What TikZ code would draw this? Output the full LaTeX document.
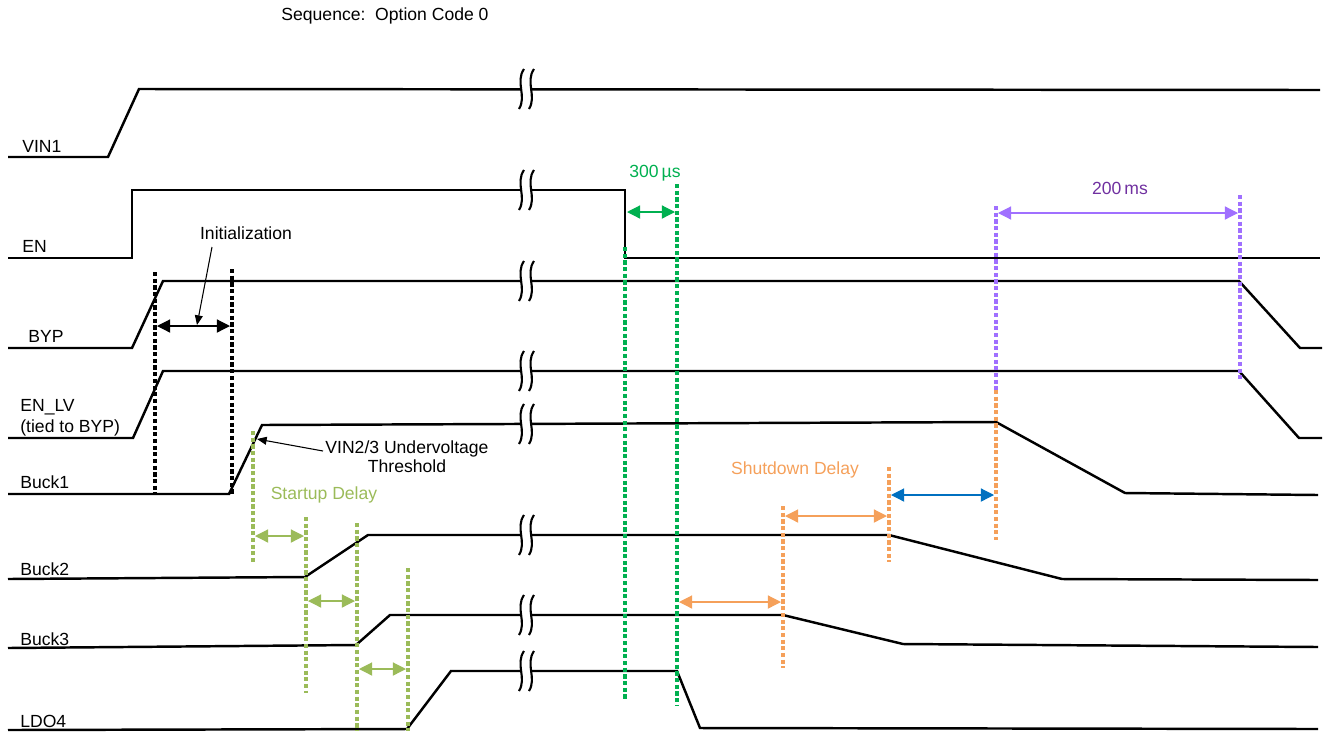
\documentclass[tikz,border=0pt]{standalone}
\usepackage{fontspec}
\setmainfont{Liberation Sans}
\usepackage{tikz}
\usetikzlibrary{arrows.meta}

\definecolor{GreenDark}{HTML}{00B050}
\definecolor{GreenLight}{HTML}{9BBB59}
\definecolor{OrangeDelay}{HTML}{F5A05A}
\definecolor{PurpleLine}{HTML}{A070FF}
\definecolor{PurpleText}{HTML}{7030A0}
\definecolor{BlueDelay}{HTML}{0070C0}

% a broken time axis: gap in the trace plus two wavy strokes
\newcommand{\cutmark}[1]{%
  \fill[white] (521,#1-3) rectangle (531,#1+3);
  \draw[line width=1.2pt] (524,#1-20) .. controls (515,#1-7) and (527,#1+7) .. (519,#1+20);
  \draw[line width=1.2pt] (534,#1-20) .. controls (525,#1-7) and (537,#1+7) .. (529,#1+20);
}

\begin{document}
\begin{tikzpicture}[x=0.02cm, y=-0.02cm, line join=miter,
      every node/.append style={inner sep=0pt, font=\fontsize{10}{12}\selectfont}]
    \tikzstyle{wave} = [line width=1.4pt, color=black]
    \tikzstyle{guide} = [line width=2.2pt, dash pattern=on 2.4pt off 1.4pt]
    \tikzstyle{delay} = [{Triangle[length=7.5pt,width=7.5pt]}-{Triangle[length=7.5pt,width=7.5pt]}, line width=0.7pt]
    \tikzstyle{pointer} = [-{Triangle[length=5.5pt,width=4.5pt]}, line width=0.6pt]
    \useasboundingbox (0,0) rectangle (1325,731);

    \node (title) at (385,16) {Sequence:\ \ Option Code 0};

    % signal names
    \node (vin) [anchor=west] at (22,146) {VIN1};
    \node (en) [anchor=west] at (22,246) {EN};
    \node (byp) [anchor=west] at (28,336) {BYP};
    \node (enlv) [anchor=west] at (20,407) {EN\_LV};
    \node (tied) [anchor=west] at (20,428) {(tied to BYP)};
    \node (buck1) [anchor=west] at (20,482) {Buck1};
    \node (buck2) [anchor=west] at (20,569) {Buck2};
    \node (buck3) [anchor=west] at (20,639) {Buck3};
    \node (ldo) [anchor=west] at (20,721) {LDO4};

    % traces
    \draw[wave] (8,157) -- (108,157) -- (139,89) -- (1320,90);
    \draw[wave] (8,258) -- (132,258) -- (132,190) -- (625,190) -- (625,258) -- (1320,258);
    \draw[wave] (8,348) -- (132,348) -- (163,281) -- (1239,281) -- (1300,348) -- (1322,348);
    \draw[wave] (8,438) -- (133,438) -- (163,371) -- (1239,371) -- (1299,438) -- (1322,438);
    \draw[wave] (8,494) -- (229,494) -- (262,425) -- (996,422) -- (1125,493) -- (1318,495);
    \draw[wave] (8,579) -- (305,577) -- (368,535) -- (889,535) -- (1062,579) -- (1318,580);
    \draw[wave] (8,648) -- (356,645) -- (390,615) -- (783,615) -- (903,644) -- (1318,647);
    \draw[wave] (8,730) -- (407,729) -- (451,671) -- (677,671) -- (700,728) -- (1318,729);

    \foreach \y in {89,190,281,371,424,535,615,671} {\cutmark{\y}}

    % initialization
    \draw[guide] (155,272) -- (155,494);
    \draw[guide] (232,269) -- (232,494);
    \draw[delay] (157,326) -- (230,326);
    \node (init) at (246,233) {Initialization};
    \draw[pointer] (212,247) -- (197,325);

    % undervoltage threshold
    \node (uvlo) [align=center] at (407,457) {VIN2/3 Undervoltage\\[-1pt]Threshold};
    \draw[pointer] (323,451) -- (257,439);

    % startup delay
    \begin{scope}[color=GreenLight]
      \draw[guide] (253,431) -- (253,563);
      \draw[guide] (306,517) -- (306,693);
      \draw[guide] (357,523) -- (357,731);
      \draw[guide] (408,568) -- (408,731);
      \draw[delay] (255,536) -- (304,536);
      \draw[delay] (308,601) -- (355,601);
      \draw[delay] (359,669) -- (406,669);
      \node (startup) [text=GreenLight] at (324,495) {Startup Delay};
    \end{scope}

    % 300 us
    \begin{scope}[color=GreenDark]
      \draw[guide] (625,247) -- (625,700);
      \draw[guide] (677,184) -- (677,706);
      \draw[delay] (627,212) -- (675,212);
      \node (t300) [text=GreenDark] at (655,173) {300\,µs};
    \end{scope}

    % shutdown delay
    \begin{scope}[color=OrangeDelay]
      \draw[guide] (783,506) -- (783,668);
      \draw[guide] (889,467) -- (889,562);
      \draw[guide] (996,390) -- (996,540);
      \draw[delay] (679,602) -- (781,602);
      \draw[delay] (785,516) -- (887,516);
      \node (shutdown) [text=OrangeDelay] at (795,470) {Shutdown Delay};
    \end{scope}
    \draw[delay, color=BlueDelay] (891,495) -- (994,495);

    % 200 ms
    \begin{scope}[color=PurpleLine]
      \draw[guide] (996,206) -- (996,392);
      \draw[guide] (1240,195) -- (1240,380);
      \draw[delay] (998,213) -- (1238,213);
      \node (t200) [text=PurpleText] at (1120,188) {200\,ms};
    \end{scope}
\end{tikzpicture}
\end{document}
